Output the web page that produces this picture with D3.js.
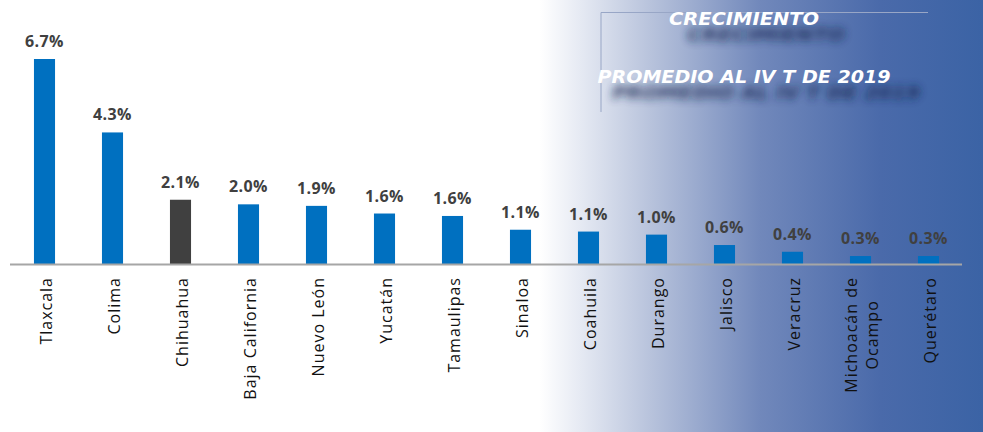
<!DOCTYPE html>
<html>
<head>
<meta charset="utf-8">
<script src="https://cdn.jsdelivr.net/npm/d3@7"></script>
<style>
  body { margin: 0; background: #fff; }
  svg { display: block; }
</style>
</head>
<body>
<div id="chart"></div>
<script>
// chart data
const estados = ["Tlaxcala", "Colima", "Chihuahua", "Baja California", "Nuevo León", "Yucatán",
                 "Tamaulipas", "Sinaloa", "Coahuila", "Durango", "Jalisco", "Veracruz",
                 "Michoacán de\nOcampo", "Querétaro"];
const crecimiento = [6.7, 4.3, 2.1, 1.95, 1.9, 1.65, 1.57, 1.12, 1.06, 0.96, 0.62, 0.4, 0.26, 0.26];
const etiquetas = ["6.7%", "4.3%", "2.1%", "2.0%", "1.9%", "1.6%", "1.6%", "1.1%", "1.1%", "1.0%",
                   "0.6%", "0.4%", "0.3%", "0.3%"];
const destacado = "Chihuahua";
const titulo = ["CRECIMIENTO", "PROMEDIO AL IV T DE 2019"];

const width = 983, height = 432;
const baseY = 264;

const svg = d3.select("#chart")
    .append("svg")
    .attr("width", width)
    .attr("height", height);

const defs = svg.append("defs");

// background fade to blue on the right
const grad = defs.append("linearGradient")
    .attr("id", "bg")
    .attr("gradientUnits", "userSpaceOnUse")
    .attr("x1", 0).attr("x2", width).attr("y1", 0).attr("y2", 0);
[[0, "#ffffff"], [540, "#ffffff"], [580, "#e6eaf3"], [650, "#b8c3dc"], [760, "#7188bb"],
 [880, "#4a6aaa"], [983, "#3b63a5"]].forEach(function(s) {
    grad.append("stop").attr("offset", s[0] / width).attr("stop-color", s[1]);
});
svg.append("rect")
    .attr("width", width).attr("height", height)
    .attr("fill", "url(#bg)");

const blur = defs.append("filter").attr("id", "blur")
    .attr("x", "-20%").attr("y", "-100%").attr("width", "140%").attr("height", "300%");
blur.append("feGaussianBlur").attr("stdDeviation", 4.5);

// title frame
svg.append("path")
    .attr("d", "M601,112 V12.5 H928")
    .attr("fill", "none")
    .attr("stroke", "#98a6c6")
    .attr("stroke-width", 1);

// title shadow + text
const titleY = [25, 83];
const titleW = [150, 293];
titulo.forEach(function(t, i) {
    svg.append("text")
        .attr("x", 766).attr("y", titleY[i] + 16)
        .attr("text-anchor", "middle")
        .attr("font-family", "'DejaVu Sans', sans-serif")
        .attr("font-weight", 700)
        .attr("font-style", "italic")
        .attr("font-size", 18)
        .attr("textLength", titleW[i] * 1.05)
        .attr("lengthAdjust", "spacingAndGlyphs")
        .attr("fill", "#152850")
        .attr("opacity", 0.85)
        .attr("filter", "url(#blur)")
        .text(t);
    svg.append("text")
        .attr("x", 744).attr("y", titleY[i])
        .attr("text-anchor", "middle")
        .attr("font-family", "'DejaVu Sans', sans-serif")
        .attr("font-weight", 700)
        .attr("font-style", "italic")
        .attr("font-size", 18)
        .attr("textLength", titleW[i])
        .attr("lengthAdjust", "spacingAndGlyphs")
        .attr("fill", "#ffffff")
        .text(t);
});

// scales
const x = d3.scaleBand()
    .domain(estados)
    .range([10.5, 962.5])
    .paddingInner(0.69)
    .paddingOuter(0.345);

const y = d3.scaleLinear()
    .domain([0, 6.7])
    .range([baseY, 59]);

// bars
svg.append("g")
    .selectAll("rect")
    .data(estados)
    .enter()
    .append("rect")
    .attr("x", function(d) { return x(d); })
    .attr("y", function(d, i) { return y(crecimiento[i]); })
    .attr("width", x.bandwidth())
    .attr("height", function(d, i) { return baseY - y(crecimiento[i]); })
    .attr("fill", function(d) { return d === destacado ? "#404040" : "#0070c0"; });

// value labels
svg.append("g")
    .selectAll("text")
    .data(estados)
    .enter()
    .append("text")
    .attr("x", function(d) { return x(d) + x.bandwidth() / 2; })
    .attr("y", function(d, i) { return y(crecimiento[i]) - 12; })
    .attr("text-anchor", "middle")
    .attr("font-family", "'Open Sans', sans-serif")
    .attr("font-weight", 700)
    .attr("font-size", 16)
    .attr("letter-spacing", 0.4)
    .attr("fill", "#404040")
    .text(function(d, i) { return etiquetas[i]; });

// baseline
svg.append("line")
    .attr("x1", 10).attr("x2", 962)
    .attr("y1", baseY + 0.5).attr("y2", baseY + 0.5)
    .attr("stroke", "#a6a6a6")
    .attr("stroke-width", 2);

// category labels (rotated)
const cats = svg.append("g")
    .attr("font-family", "'Open Sans', sans-serif")
    .attr("font-size", 16)
    .attr("letter-spacing", 1)
    .attr("fill", "#111");

estados.forEach(function(d) {
    const lines = d.split("\n");
    const cx = x(d) + x.bandwidth() / 2 + 1.5;
    const g = cats.append("g")
        .attr("transform", "translate(" + cx + "," + 277 + ") rotate(-90)");
    if (lines.length === 1) {
        g.append("text")
            .attr("text-anchor", "end")
            .attr("dy", "0.35em")
            .text(d);
    } else {
        const first = g.append("text")
            .attr("text-anchor", "end")
            .attr("y", -10.5)
            .attr("dy", "0.35em")
            .text(lines[0]);
        const w = first.node().getComputedTextLength();
        g.append("text")
            .attr("text-anchor", "middle")
            .attr("x", -w / 2)
            .attr("y", 10.5)
            .attr("dy", "0.35em")
            .text(lines[1]);
    }
});
</script>
</body>
</html>
